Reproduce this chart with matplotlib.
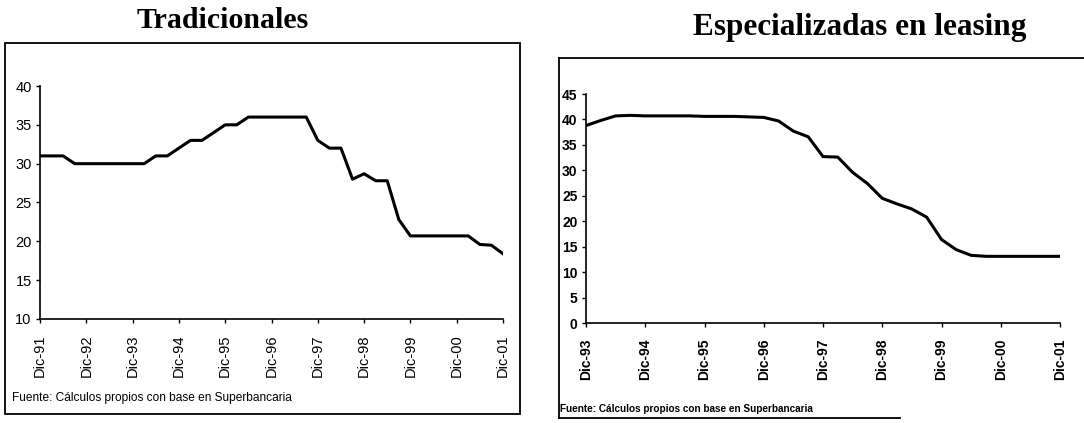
import numpy as np
import matplotlib
matplotlib.use("Agg")
import matplotlib.pyplot as plt
from matplotlib.patches import Rectangle
from matplotlib.lines import Line2D

# Tradicionales: quarterly, Dic-91 .. Dic-01
trad_labels = ["Dic-91", "Dic-92", "Dic-93", "Dic-94", "Dic-95", "Dic-96",
               "Dic-97", "Dic-98", "Dic-99", "Dic-00", "Dic-01"]
trad_values = [31, 31, 31, 30, 30, 30, 30, 30, 30, 30,
               31, 31, 32, 33, 33, 34, 35, 35, 36, 36,
               36, 36, 36, 36, 33, 32, 32, 28, 28.7, 27.8,
               27.8, 22.8, 20.7, 20.7, 20.7, 20.7, 20.7, 20.7, 19.6, 19.5,
               18.4]

# Especializadas en leasing: quarterly, Dic-93 .. Dic-01
leas_labels = ["Dic-93", "Dic-94", "Dic-95", "Dic-96", "Dic-97", "Dic-98",
               "Dic-99", "Dic-00", "Dic-01"]
leas_values = [38.8, 39.8, 40.7, 40.8, 40.7, 40.7, 40.7, 40.7, 40.6, 40.6,
               40.6, 40.5, 40.4, 39.7, 37.7, 36.6, 32.7, 32.6, 29.6, 27.4,
               24.5, 23.4, 22.4, 20.8, 16.4, 14.4, 13.3, 13.1, 13.1, 13.1,
               13.1, 13.1, 13.1]

W, H = 1084, 423
fig = plt.figure(figsize=(W / 100, H / 100), dpi=100)
plt.rcParams['font.family'] = ['Liberation Sans', 'DejaVu Sans']


def px_axes(x0, y0, x1, y1):
    # pixel box (top-left origin) -> figure axes
    return fig.add_axes([x0 / W, 1 - y1 / H, (x1 - x0) / W, (y1 - y0) / H])


def style(ax, labels, yticks, fs, weight):
    for s in ["top", "right"]:
        ax.spines[s].set_visible(False)
    for s in ["left", "bottom"]:
        ax.spines[s].set_linewidth(1.2)
    ax.set_xticks(np.arange(len(labels)) * 4)
    ax.set_xticklabels(labels, rotation=90, fontsize=fs, fontweight=weight)
    ax.set_yticks(yticks)
    ax.set_yticklabels([str(v) for v in yticks], fontsize=fs, fontweight=weight)
    ax.tick_params(axis="both", direction="out", length=3, width=1, pad=3)
    ax.tick_params(axis="x", pad=8)


def frame_rect(x0, y0, x1, y1):
    fig.add_artist(Rectangle((x0 / W, 1 - y1 / H), (x1 - x0) / W, (y1 - y0) / H,
                             transform=fig.transFigure, fill=False, lw=1.3, ec="black"))


# left chart
frame_rect(5, 43, 520, 414)
ax1 = px_axes(40, 86, 503, 319)
ax1.plot(np.arange(len(trad_values)), trad_values, color="black", lw=2.2)
ax1.set_xlim(0, 40)
ax1.set_ylim(10, 40)
style(ax1, trad_labels, list(range(10, 41, 5)), 10.5, "normal")
fig.text(223 / W, 1 - 20 / H, "Tradicionales", ha="center", va="center",
         fontsize=21.5, fontweight="bold", family="Liberation Serif")
fig.text(12 / W, 1 - 398 / H, "Fuente: Cálculos propios con base en Superbancaria",
         ha="left", va="center", fontsize=8.6)

# right chart
for xs, ys in [((559, 1084), (58, 58)), ((559, 559), (58, 418)), ((559, 900), (418, 418))]:
    fig.add_artist(Line2D([x / W for x in xs], [1 - y / H for y in ys],
                          transform=fig.transFigure, color="black", lw=1.3))
ax2 = px_axes(586, 94, 1060, 323)
ax2.plot(np.arange(len(leas_values)), leas_values, color="black", lw=2.2)
ax2.set_xlim(0, 32)
ax2.set_ylim(0, 45)
style(ax2, leas_labels, list(range(0, 46, 5)), 10, "bold")
fig.text(860 / W, 1 - 28 / H, "Especializadas en leasing", ha="center", va="center",
         fontsize=22.5, fontweight="bold", family="Liberation Serif")
fig.text(560 / W, 1 - 409 / H, "Fuente: Cálculos propios con base en Superbancaria",
         ha="left", va="center", fontsize=7.2, fontweight="bold")

fig.savefig("out.png", dpi=100)
